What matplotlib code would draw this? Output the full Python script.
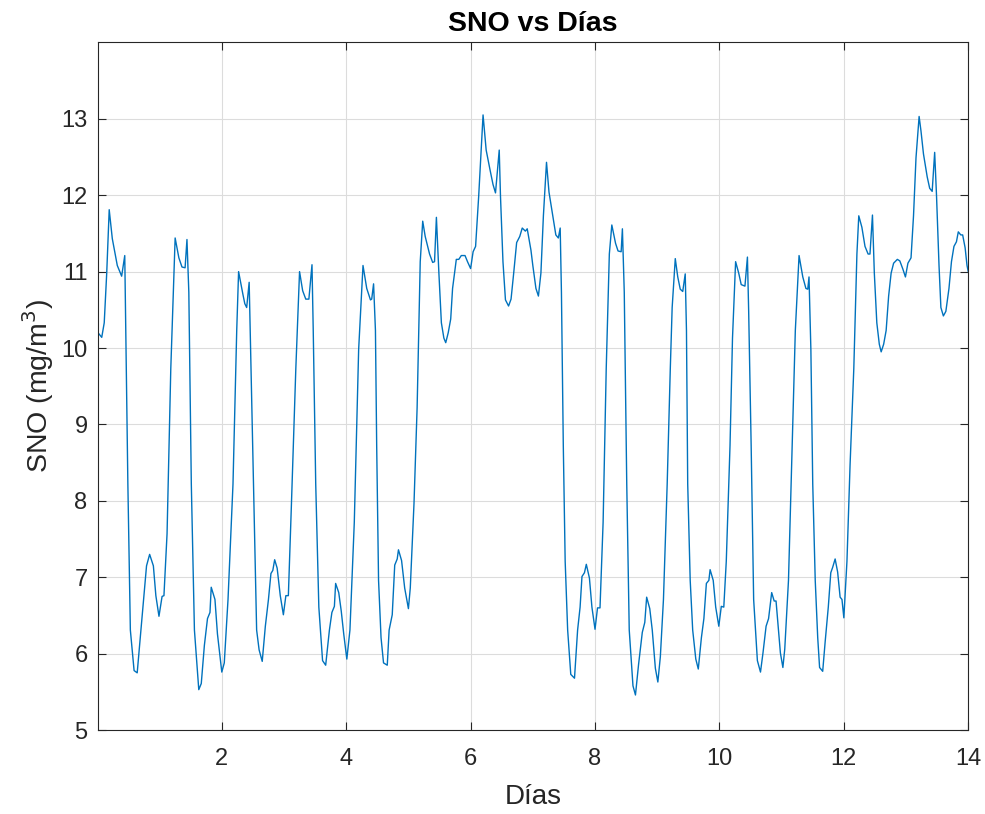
import matplotlib.pyplot as plt

# SNO readings (mg/m^3) vs day
days = [0.01, 0.07, 0.11, 0.15, 0.19, 0.24, 0.32, 0.39, 0.44, 0.46, 0.49, 0.53, 0.59, 0.64,
        0.70, 0.79, 0.84, 0.90, 0.94, 0.99, 1.04, 1.07, 1.12, 1.18, 1.25, 1.31, 1.36, 1.41,
        1.44, 1.47, 1.51, 1.56, 1.63, 1.67, 1.72, 1.77, 1.81, 1.83, 1.89, 1.93, 2.00, 2.04,
        2.10, 2.18, 2.24, 2.27, 2.34, 2.37, 2.40, 2.44, 2.47, 2.51, 2.56, 2.60, 2.65, 2.70,
        2.75, 2.79, 2.82, 2.85, 2.89, 2.94, 2.99, 3.03, 3.07, 3.12, 3.19, 3.25, 3.30, 3.35,
        3.40, 3.45, 3.47, 3.51, 3.56, 3.62, 3.67, 3.73, 3.77, 3.81, 3.83, 3.88, 3.92, 3.96,
        4.01, 4.06, 4.13, 4.20, 4.27, 4.33, 4.39, 4.41, 4.44, 4.47, 4.49, 4.52, 4.56, 4.60,
        4.66, 4.69, 4.74, 4.78, 4.82, 4.84, 4.89, 4.94, 5.00, 5.03, 5.09, 5.14, 5.19, 5.23,
        5.27, 5.34, 5.39, 5.42, 5.45, 5.49, 5.53, 5.57, 5.60, 5.64, 5.68, 5.71, 5.77, 5.81,
        5.85, 5.91, 5.95, 6.00, 6.04, 6.08, 6.13, 6.20, 6.25, 6.31, 6.36, 6.40, 6.46, 6.48,
        6.52, 6.56, 6.61, 6.65, 6.69, 6.74, 6.79, 6.83, 6.88, 6.91, 6.97, 7.00, 7.05, 7.09,
        7.13, 7.17, 7.22, 7.26, 7.32, 7.37, 7.41, 7.44, 7.46, 7.49, 7.52, 7.56, 7.61, 7.67,
        7.72, 7.76, 7.79, 7.83, 7.86, 7.91, 7.95, 8.00, 8.04, 8.08, 8.13, 8.18, 8.23, 8.27,
        8.33, 8.37, 8.42, 8.44, 8.47, 8.51, 8.55, 8.61, 8.65, 8.70, 8.76, 8.80, 8.83, 8.88,
        8.92, 8.97, 9.01, 9.05, 9.10, 9.16, 9.21, 9.24, 9.29, 9.33, 9.37, 9.41, 9.45, 9.47,
        9.49, 9.53, 9.57, 9.62, 9.66, 9.71, 9.75, 9.79, 9.83, 9.85, 9.90, 9.94, 9.99, 10.03,
        10.07, 10.11, 10.17, 10.21, 10.26, 10.31, 10.35, 10.41, 10.45, 10.47, 10.51, 10.55,
        10.61, 10.66, 10.70, 10.75, 10.79, 10.84, 10.88, 10.91, 10.95, 10.98, 11.02, 11.05,
        11.11, 11.16, 11.22, 11.28, 11.34, 11.39, 11.42, 11.44, 11.47, 11.50, 11.54, 11.58,
        11.61, 11.66, 11.70, 11.75, 11.79, 11.82, 11.86, 11.90, 11.94, 11.97, 12.00, 12.05,
        12.10, 12.16, 12.21, 12.24, 12.29, 12.34, 12.39, 12.42, 12.46, 12.49, 12.53, 12.57,
        12.60, 12.64, 12.68, 12.72, 12.76, 12.80, 12.86, 12.90, 12.95, 12.99, 13.03, 13.08,
        13.12, 13.16, 13.21, 13.24, 13.28, 13.34, 13.38, 13.42, 13.46, 13.49, 13.53, 13.56,
        13.60, 13.64, 13.69, 13.73, 13.77, 13.81, 13.84, 13.88, 13.91, 13.95, 13.98, 14.00]
sno = [10.20, 10.14, 10.33, 10.98, 11.81, 11.43, 11.08, 10.94, 11.21, 9.98, 8.22, 6.31, 5.78, 5.75,
       6.31, 7.15, 7.30, 7.15, 6.76, 6.49, 6.75, 6.76, 7.57, 9.73, 11.44, 11.18, 11.06, 11.05,
       11.42, 10.73, 8.22, 6.31, 5.53, 5.61, 6.11, 6.46, 6.54, 6.87, 6.71, 6.26, 5.76, 5.88,
       6.71, 8.22, 10.23, 11.00, 10.70, 10.58, 10.53, 10.86, 9.73, 8.22, 6.31, 6.05, 5.90, 6.36,
       6.71, 7.05, 7.09, 7.23, 7.12, 6.76, 6.51, 6.76, 6.76, 7.97, 9.73, 11.00, 10.75, 10.64,
       10.64, 11.09, 10.23, 8.22, 6.61, 5.91, 5.85, 6.31, 6.54, 6.62, 6.92, 6.80, 6.56, 6.26,
       5.93, 6.31, 7.72, 9.98, 11.08, 10.78, 10.63, 10.64, 10.84, 10.23, 8.72, 6.96, 6.21, 5.88,
       5.85, 6.31, 6.51, 7.16, 7.24, 7.36, 7.22, 6.86, 6.59, 6.86, 7.97, 9.22, 11.13, 11.66,
       11.46, 11.23, 11.12, 11.13, 11.71, 10.98, 10.33, 10.13, 10.07, 10.20, 10.38, 10.78, 11.16, 11.16,
       11.21, 11.21, 11.13, 11.04, 11.26, 11.33, 11.99, 13.05, 12.59, 12.34, 12.14, 12.03, 12.59, 11.99,
       11.13, 10.63, 10.55, 10.64, 10.96, 11.38, 11.46, 11.57, 11.53, 11.56, 11.28, 11.08, 10.78, 10.68,
       10.98, 11.73, 12.43, 12.04, 11.73, 11.48, 11.44, 11.57, 10.73, 8.72, 7.21, 6.31, 5.73, 5.68,
       6.31, 6.61, 7.01, 7.06, 7.17, 6.99, 6.61, 6.32, 6.60, 6.60, 7.72, 9.73, 11.23, 11.61,
       11.37, 11.27, 11.26, 11.56, 10.73, 8.22, 6.31, 5.58, 5.46, 5.86, 6.28, 6.41, 6.74, 6.59,
       6.31, 5.81, 5.63, 5.96, 6.71, 8.22, 9.73, 10.53, 11.17, 10.93, 10.77, 10.74, 10.97, 10.23,
       8.22, 6.96, 6.31, 5.93, 5.80, 6.21, 6.46, 6.92, 6.96, 7.10, 6.96, 6.61, 6.36, 6.62,
       6.61, 7.21, 8.72, 10.13, 11.13, 10.98, 10.83, 10.81, 11.19, 10.48, 8.72, 6.71,
       5.91, 5.76, 6.01, 6.36, 6.46, 6.80, 6.69, 6.69, 6.31, 6.01, 5.82, 6.06,
       6.96, 8.47, 10.23, 11.21, 10.93, 10.78, 10.77, 10.93, 9.98, 8.22, 6.96, 6.21,
       5.82, 5.77, 6.16, 6.61, 7.06, 7.13, 7.24, 7.07, 6.74, 6.71, 6.47, 7.21,
       8.47, 9.73, 11.23, 11.73, 11.58, 11.33, 11.23, 11.23, 11.74, 10.98, 10.33, 10.05,
       9.95, 10.05, 10.23, 10.68, 10.98, 11.11, 11.16, 11.14, 11.03, 10.93, 11.11, 11.18,
       11.73, 12.49, 13.03, 12.84, 12.54, 12.24, 12.09, 12.05, 12.56, 11.99, 11.08, 10.53,
       10.42, 10.48, 10.78, 11.13, 11.33, 11.39, 11.52, 11.48, 11.48, 11.31, 11.08, 11.00]

x_ticks = [2, 4, 6, 8, 10, 12, 14]
y_ticks = [5, 6, 7, 8, 9, 10, 11, 12, 13]

plt.rcParams['font.family'] = ['Liberation Sans', 'DejaVu Sans']
dark = (0.15, 0.15, 0.15)

fig = plt.figure(figsize=(9.85, 8.14), dpi=100)
ax = fig.add_axes([0.0995, 0.103, 0.8835, 0.845])

ax.plot(days, sno, color='#0072BD', lw=1.0)

ax.set_xlim(days[0], 14)
ax.set_ylim(5, 14)
ax.set_xticks(x_ticks)
ax.set_yticks(y_ticks)
ax.grid(True, color='#dcdcdc', lw=0.8)
ax.set_axisbelow(True)

ax.tick_params(direction='in', length=6, width=0.8, colors=dark, labelsize=17,
               top=True, right=True)
ax.tick_params(axis='x', pad=13)
ax.tick_params(axis='y', pad=7.5)
for s in ax.spines.values():
    s.set_color(dark)
    s.set_linewidth(0.8)

ax.set_title('SNO vs Días', fontsize=20.5, fontweight='bold', color='black', pad=8)
ax.set_xlabel('Días', fontsize=20, color=dark, labelpad=10)
ax.set_ylabel('SNO (mg/m$^3$)', fontsize=20.5, color=dark, labelpad=4)

fig.savefig('out.png', dpi=100, facecolor='white')
